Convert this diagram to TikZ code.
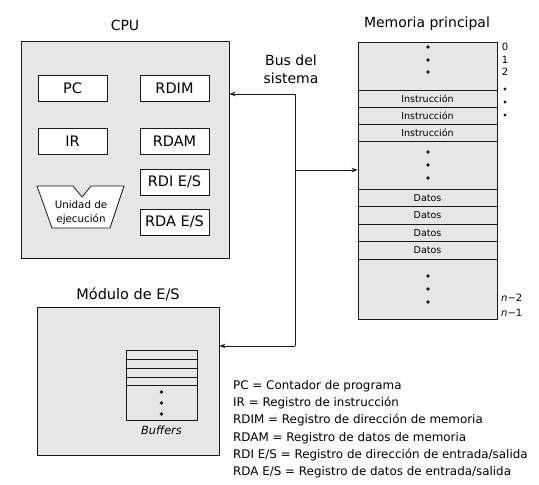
\documentclass[tikz,border=0pt]{standalone}
\usepackage{fontspec}
\setmainfont{DejaVu Sans}
\usetikzlibrary{arrows.meta,positioning,calc}
\definecolor{Ink}{HTML}{1A1A1A}
\definecolor{Panel}{HTML}{E6E6E6}

\begin{document}
\begin{tikzpicture}[x=1pt,y=-1pt,
  every node/.style={font=\fontsize{14}{16}\selectfont,align=center,inner sep=0pt},
  panel/.style={draw=Ink,fill=Panel,line width=0.8pt},
  reg/.style={draw=Ink,fill=white,line width=0.8pt,minimum width=69pt,minimum height=26pt,font=\fontsize{14.5}{16}\selectfont},
  row/.style={draw=Ink,fill=Panel,line width=0.7pt,minimum width=139pt,minimum height=17.5pt,font=\fontsize{9.5}{11}\selectfont},
  addr/.style={font=\fontsize{10}{11}\selectfont},
  bus/.style={draw=Ink,line width=0.9pt},
  arr/.style={bus,-{Stealth[length=6pt,width=4.5pt]}}]
  \useasboundingbox (0,0) rectangle (539,485);

  % CPU
  \node[panel,minimum width=208pt,minimum height=217pt] (cpu) at (125,149.5) {};
  \node (cputitle) at (125,25) {CPU};
  \node[reg] (pc) at (72.5,88) {PC};
  \node[reg] (rdim) at (174.5,88) {RDIM};
  \node[reg] (ir) at (72.5,141) {IR};
  \node[reg] (rdam) at (174.5,141) {RDAM};
  \node[reg] (rdies) at (174.5,182) {RDI E/S};
  \node[reg] (rdaes) at (174.5,222) {RDA E/S};
  \draw[draw=Ink,fill=white,line width=0.8pt] (37,186) -- (73,186) -- (82,197) -- (91,186)
    -- (124,186) -- (110,228) -- (52,228) -- cycle;
  \node[font=\fontsize{10.3}{14}\selectfont] (exec) at (81,213) {Unidad de\\ejecución};

  % memoria
  \node[panel,minimum width=139pt,minimum height=277pt] (mem) at (427.5,180.5) {};
  \node (memtitle) at (427,24) {Memoria principal};
  \foreach \y [count=\i] in {98.5,115.5,132.5}
    \node[row,minimum height=17pt] (ins\i) at (427.5,\y) {Instrucción};
  \foreach \y [count=\i] in {197.75,215.25,232.75,250.25}
    \node[row] (dat\i) at (427.5,\y) {Datos};
  \foreach \y in {47,60,72,152,165,178,276,289,302}
    \fill[Ink] (428,\y) circle (1.8pt);
  \foreach \y/\t in {47/0,59.5/1,71.5/2}
    \node[addr] at (505,\y) {\t};
  \foreach \y in {89,102,115}
    \fill[Ink] (505,\y) circle (1.7pt);
  \node[addr,anchor=west] (nm2) at (501,298) {\textit{n}−2};
  \node[addr,anchor=west] (nm1) at (501,313) {\textit{n}−1};

  % modulo E/S
  \node[panel,minimum width=182pt,minimum height=148pt] (io) at (128,381) {};
  \node[font=\fontsize{14.5}{16}\selectfont] (iotitle) at (128,294) {Módulo de E/S};
  \node[draw=Ink,line width=0.7pt,minimum width=71pt,minimum height=70pt] (buf) at (161.5,385) {};
  \foreach \y in {359,368,377,385.5}
    \draw[Ink,line width=0.7pt] (buf.west |- 0,\y) -- (buf.east |- 0,\y);
  \foreach \y in {392,403,414}
    \fill[Ink] (161.5,\y) circle (1.8pt);
  \node[font=\fontsize{11.3}{13}\selectfont\itshape] (buftitle) at (161.5,430) {Buffers};

  % bus del sistema
  \node[font=\fontsize{14}{18}\selectfont] (bustitle) at (291,69) {Bus del\\sistema};
  \coordinate (busT) at (295,94);
  \coordinate (busM) at (295,170);
  \coordinate (busB) at (295,346);
  \draw[bus] (busT) -- (busB);
  \draw[arr] (busT) -- (cpu.east |- busT);
  \draw[arr] (busM) -- (mem.west |- busM);
  \draw[arr] (busB) -- (io.east |- busB);

  % leyenda
  \node[anchor=north west,align=left,font=\fontsize{11.9}{17.3}\selectfont] (legend) at (233,380)
    {PC = Contador de programa\\
     IR = Registro de instrucción\\
     RDIM = Registro de dirección de memoria\\
     RDAM = Registro de datos de memoria\\
     RDI E/S = Registro de dirección de entrada/salida\\
     RDA E/S = Registro de datos de entrada/salida};
\end{tikzpicture}
\end{document}
